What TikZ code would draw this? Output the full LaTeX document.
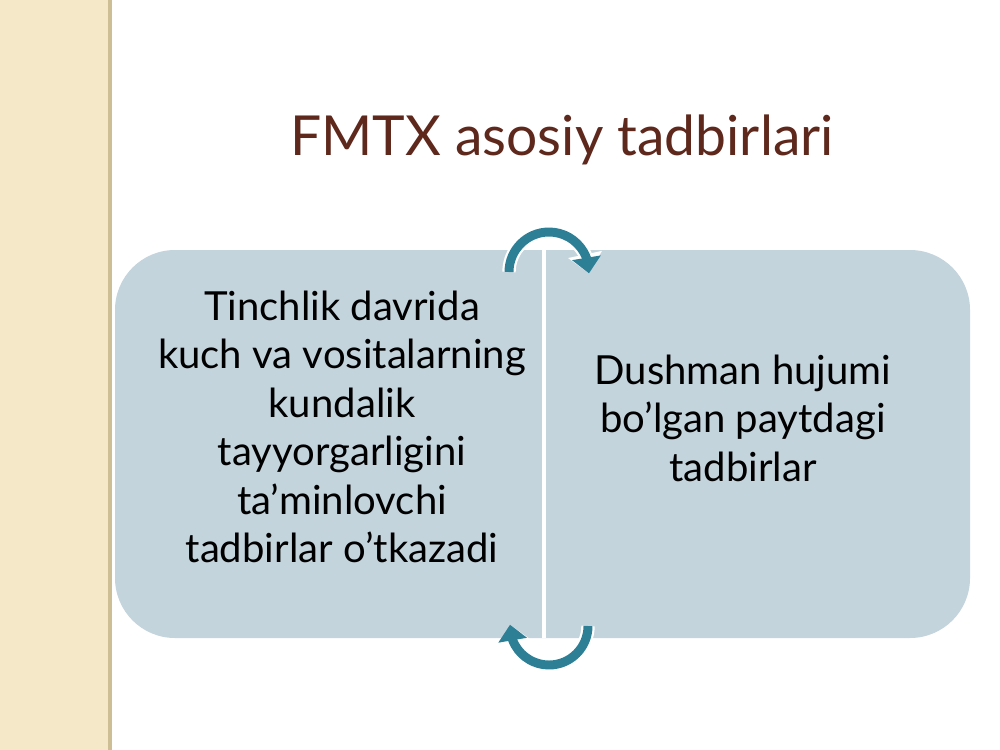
\documentclass[tikz,border=0pt]{standalone}
\usepackage{fontspec}
\setmainfont{Lato}
\usepackage{tikz}
\usetikzlibrary{arrows.meta,bending}
\definecolor{paper}{RGB}{244,232,201}
\definecolor{paperedge}{RGB}{205,190,150}
\definecolor{boxfill}{RGB}{196,212,221}
\definecolor{titlebrown}{RGB}{94,40,28}
\definecolor{cycleteal}{RGB}{45,127,150}
\tikzset{
  bodytext/.style={align=center,font=\fontsize{22.8}{27.6}\selectfont,text=black},
  cyclewhite/.style={white,line width=7.6pt,-{Triangle[width=19pt,length=11pt,flex]}},
  cycleline/.style={cycleteal,line width=5.1pt,-{Triangle[width=16pt,length=9pt,flex]}}
}

\begin{document}
\begin{tikzpicture}[x=0.02cm,y=-0.02cm,join=round] % slide: two measures and turn arrows
        \useasboundingbox (0,0) rectangle (1000,750);
        \fill[white](0,0) rectangle (1000,750);
        \fill[paper](0,0) rectangle (109,750);
        \fill[paperedge](108,0) rectangle (112,750);
        \node[font=\fontsize{31.4}{36}\selectfont,text=titlebrown] (title) at (562,140) {FMTX asosiy tadbirlari};
        \fill[boxfill,rounded corners=1.2cm](115,250) rectangle (970,638);
        \fill[white](542,250) rectangle (546,638);
        \node[bodytext] (peace) at (342,427) {Tinchlik davrida\\ kuch va vositalarning\\ kundalik\\ tayyorgarligini\\ ta’minlovchi\\ tadbirlar o’tkazadi};
        \node[bodytext] (attack) at (743,418) {Dushman hujumi\\ bo’lgan paytdagi\\ tadbirlar};
        \draw[cyclewhite](509,272) arc[start angle=180,end angle=362,radius=40];
        \draw[cycleline](509,272) arc[start angle=180,end angle=362,radius=40];
        \draw[cyclewhite](588,626) arc[start angle=0,end angle=182,radius=39];
        \draw[cycleline](588,626) arc[start angle=0,end angle=182,radius=39];
\end{tikzpicture}
\end{document}
